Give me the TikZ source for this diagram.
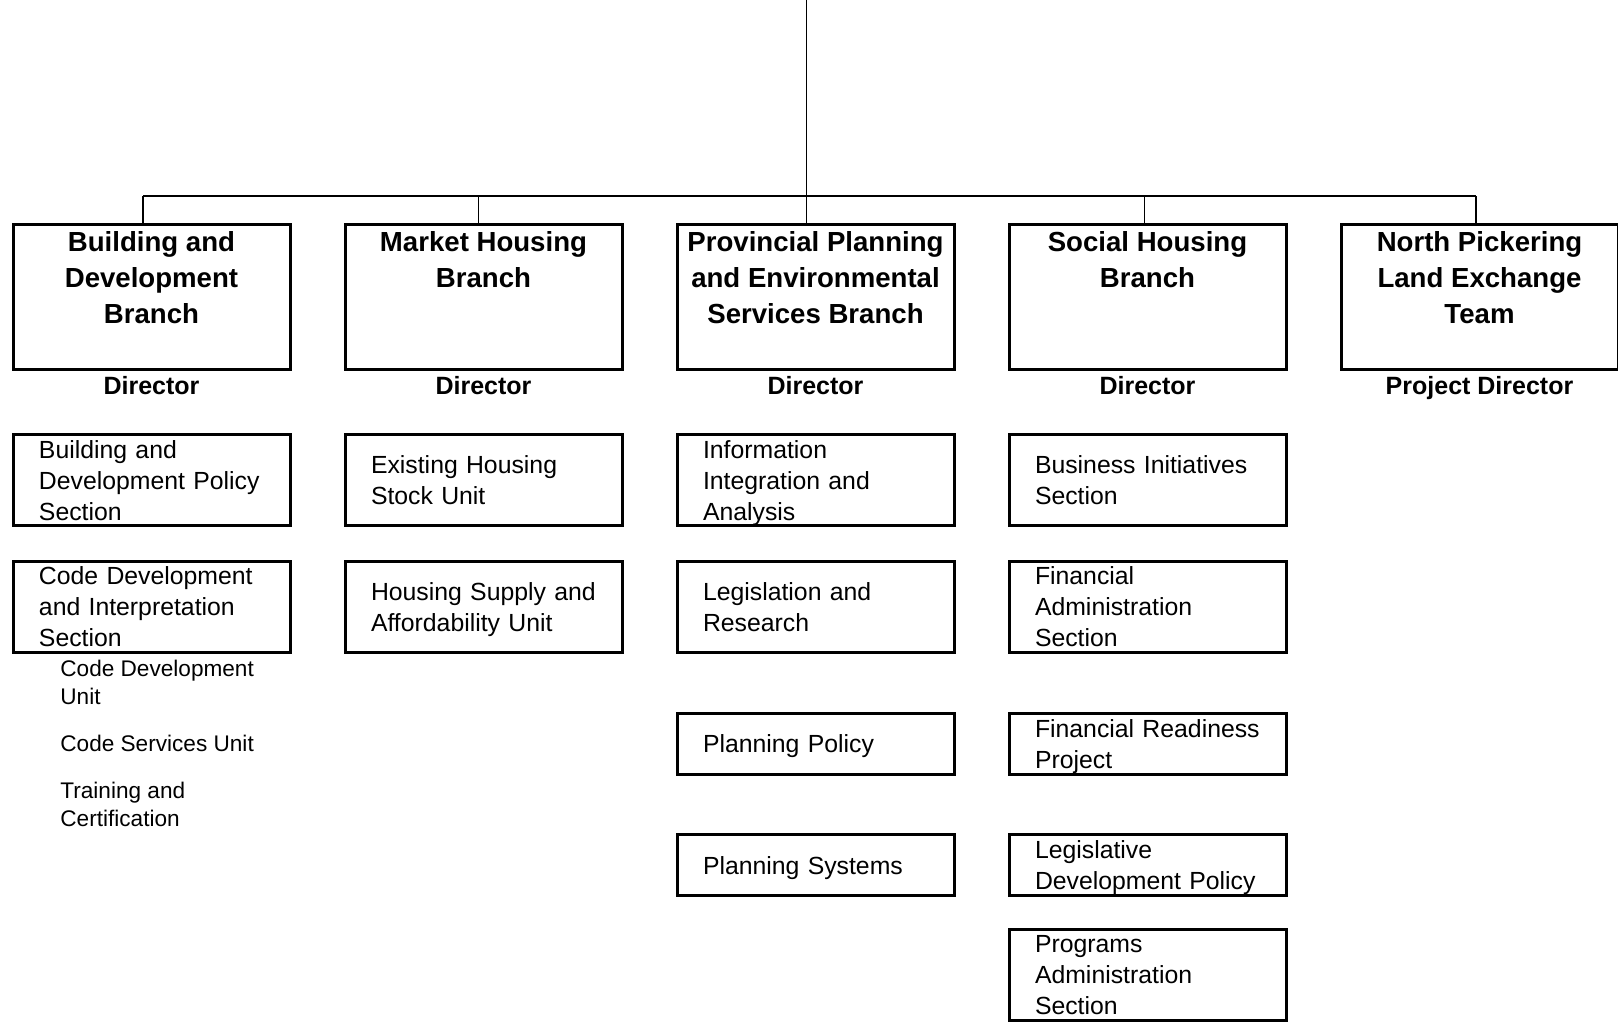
\documentclass[tikz,border=0pt]{standalone}
\usepackage{fontspec}
\setmainfont{Liberation Sans}

\tikzset{
  branch/.style={draw, line width=1.5pt, minimum width=138.5pt, minimum height=72.75pt},
  btitle/.style={anchor=north, align=center, inner sep=0pt, font=\fontsize{13.8}{17.8}\selectfont\bfseries},
  boss/.style={anchor=base, inner sep=0pt, font=\fontsize{12.5}{15}\selectfont\bfseries},
  unitbox/.style={draw, line width=1.5pt, minimum width=138.5pt, text width=112.5pt,
    execute at begin node=\rule{0pt}{11.6pt}, execute at end node=\vphantom{y},
    inner xsep=13pt, inner ysep=0pt, align=left, font=\fontsize{12.4}{15.5}\selectfont},
  boxtall/.style={minimum height=45.5pt},
  boxlow/.style={minimum height=30.5pt},
  subunit/.style={anchor=west, align=left, inner sep=0pt, font=\fontsize{11.3}{14}\selectfont},
  link/.style={line width=0.7pt}
}

\begin{document}
\begin{tikzpicture}[x=0.5pt, y=-0.5pt]

    % marco
    \useasboundingbox (0,0) rectangle (1618,1023);

    % linea de arriba y barra
    \coordinate (top) at (806.5,0);
    \coordinate (t1) at (143,196);
    \coordinate (t2) at (478.5,196);
    \coordinate (t3) at (806.5,196);
    \coordinate (t4) at (1144.5,196);
    \coordinate (t5) at (1476,196);

    % ramas
    \node[branch] (b1) at (151.5,297.2) {};
    \node[branch] (b2) at (483.5,297.2) {};
    \node[branch] (b3) at (815.5,297.2) {};
    \node[branch] (b4) at (1147.5,297.2) {};
    \node[branch] (b5) at (1479.5,297.2) {};

    \node[btitle] (n1) at (151.5,231.5) {Building and\\Development\\Branch};
    \node[btitle] (n2) at (483.5,231.5) {Market Housing\\Branch};
    \node[btitle] (n3) at (815.5,231.5) {Provincial Planning\\and Environmental\\Services Branch};
    \node[btitle] (n4) at (1147.5,231.5) {Social Housing\\Branch};
    \node[btitle] (n5) at (1479.5,231.5) {North Pickering\\Land Exchange\\Team};

    \node[boss] (d1) at (151.5,394.5) {Director};
    \node[boss] (d2) at (483.5,394.5) {Director};
    \node[boss] (d3) at (815.5,394.5) {Director};
    \node[boss] (d4) at (1147.5,394.5) {Director};
    \node[boss] (d5) at (1479.5,394.5) {Project Director};

    % conectores
    \draw[link] (top) -- (t3);
    \draw[link] (t1) -- (t5);
    \draw[link] (t1) -- (b1.north -| t1);
    \draw[link] (t2) -- (b2.north -| t2);
    \draw[link] (t3) -- (b3.north -| t3);
    \draw[link] (t4) -- (b4.north -| t4);
    \draw[link] (t5) -- (b5.north -| t5);

    % columna 1
    \node[unitbox, boxtall] (u11) at (151.5,480.3) {Building and\\Development Policy\\Section};
    \node[unitbox, boxtall] (u12) at (151.5,606.7) {Code Development\\and Interpretation\\Section};
    \node[subunit] (s1) at (60,682.6) {Code Development\\Unit};
    \node[subunit] (s2) at (60,743) {Code Services Unit};
    \node[subunit] (s3) at (60,804.4) {Training and\\Certification};

    % columna 2
    \node[unitbox, boxtall] (u21) at (483.5,480.3) {Existing Housing\\Stock Unit};
    \node[unitbox, boxtall] (u22) at (483.5,606.7) {Housing Supply and\\Affordability Unit};

    % columna 3
    \node[unitbox, boxtall] (u31) at (815.5,480.3) {Information\\Integration and\\Analysis};
    \node[unitbox, boxtall] (u32) at (815.5,606.7) {Legislation and\\Research};
    \node[unitbox, boxlow] (u33) at (815.5,743.5) {Planning Policy};
    \node[unitbox, boxlow] (u34) at (815.5,865) {Planning Systems};

    % columna 4
    \node[unitbox, boxtall] (u41) at (1147.5,480.3) {Business Initiatives\\Section};
    \node[unitbox, boxtall] (u42) at (1147.5,606.7) {Financial\\Administration\\Section};
    \node[unitbox, boxlow] (u43) at (1147.5,743.5) {Financial Readiness\\Project};
    \node[unitbox, boxlow] (u44) at (1147.5,865) {Legislative\\Development Policy};
    \node[unitbox, boxtall] (u45) at (1147.5,974.5) {Programs\\Administration\\Section};

\end{tikzpicture}
\end{document}
